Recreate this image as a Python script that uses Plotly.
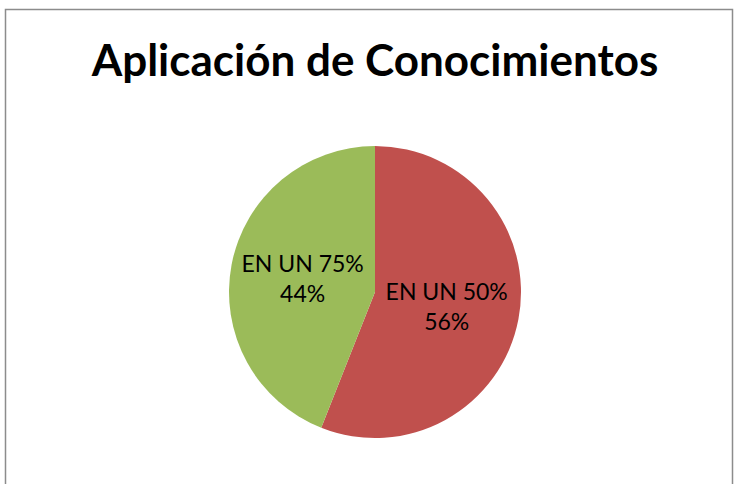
import plotly.graph_objects as go

labels = ["EN UN 50%", "EN UN 75%"]
values = [56, 44]
colors = ["#C0504D", "#9BBB59"]

W, H = 734, 484

fig = go.Figure(go.Pie(
    labels=labels,
    values=values,
    sort=False,
    direction="clockwise",
    rotation=0,
    marker=dict(colors=colors, line=dict(width=0)),
    textinfo="label+percent",
    textposition="inside",
    insidetextorientation="horizontal",
    textfont=dict(family="Lato", size=23, color="#000000"),
    domain=dict(x=[229 / W, 521 / W], y=[(H - 438) / H, (H - 146) / H]),
    showlegend=False,
    hoverinfo="label+percent",
))

fig.update_layout(
    width=W,
    height=H,
    margin=dict(l=0, r=0, t=0, b=0),
    paper_bgcolor="white",
    plot_bgcolor="white",
    title=dict(
        text="<b>Aplicación de Conocimientos</b>",
        x=375 / W,
        xanchor="center",
        y=1 - 61 / H,
        yanchor="middle",
        font=dict(family="Lato", size=44, color="#000000"),
    ),
    shapes=[dict(
        type="rect", xref="paper", yref="paper",
        x0=5.5 / W, x1=732.5 / W, y0=-0.05, y1=1 - 9.5 / H,
        line=dict(color="#8C8C8C", width=1.5),
        fillcolor="rgba(0,0,0,0)",
    )],
)

# page body has a default 8px margin; drop it so the chart sits at the window origin
fig.write_html(
    "out.html",
    config={"displayModeBar": False},
    post_script="document.body.style.margin='0';",
)
